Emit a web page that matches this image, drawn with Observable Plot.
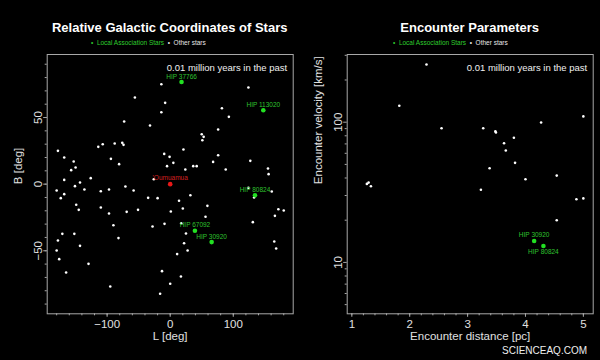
<!DOCTYPE html>
<html><head><meta charset="utf-8">
<script src="https://cdn.jsdelivr.net/npm/d3@7"></script>
<script src="https://cdn.jsdelivr.net/npm/@observablehq/plot@0.6"></script>
<style>
html,body{margin:0;padding:0;background:#000;}
#wrap{position:relative;width:600px;height:360px;background:#000;overflow:hidden;font-family:"Liberation Sans",Arial,sans-serif;color:#fff;}
.panel{position:absolute;top:0;width:300px;height:360px;}
.title{position:absolute;top:21px;width:300px;text-align:center;font-weight:bold;font-size:13px;line-height:13px;white-space:nowrap;}
.legend{position:absolute;top:39px;font-size:6.5px;line-height:7px;white-space:nowrap;}
.legend .g{color:#2ecc2e;}
.legend .w{color:#e8e8e8;}
.wm{position:absolute;left:502px;top:345px;font-size:10px;line-height:12px;color:#eee;}
</style></head>
<body>
<div id="wrap">
  <div class="panel" id="p1" style="left:0"></div>
  <div class="panel" id="p2" style="left:300px"></div>
  <div class="title" style="left:19.7px">Relative Galactic Coordinates of Stars</div>
  <div class="title" style="left:319.7px">Encounter Parameters</div>
  <div class="legend" style="left:91px"><span class="g">•&nbsp; Local Association Stars</span>&nbsp; <span class="w">•&nbsp; Other stars</span></div>
  <div class="legend" style="left:393px"><span class="g">•&nbsp; Local Association Stars</span>&nbsp; <span class="w">•&nbsp; Other stars</span></div>
  <div class="wm">SCIENCEAQ.COM</div>
</div>
<script>
// ---- Left panel: galactic coordinates ----
const otherL = [-14,124,-56,-8,-14,82,93,-73,-32,76,50,53,51,-76,-74,-88,-107,-114,-178,21,-9.5,-1,76,-168,-94,-153,127,68,5,-81,-5,36.5,42,-150,-157,24,88,155,156,-126,-168,-26,-143,-151,-71,-136,-97,-180,-58,-110,124,161,133,-168,32,-173.5,-35,-20,14,-149,-110,59,-145,-51,20,171.5,180,-97,-69,1,56,166,-90,-28,-9,17.5,131,-171,-152,25,-178,-82,-143,22,165,-180,27.6,168,11,-176,-129.5,-165,-13,17,0,-95,-16];
const otherB = [75,72.5,65,61,54,57,50.5,47,44,41,37.5,35.5,33,31,29.5,30.5,30,28,25,26,22.7,20.5,21.7,20,19,17,17.5,16.7,16,15,13.5,13.5,13.5,12.5,10.5,11,11,11.7,7.5,4.5,3.2,3.7,1.2,-1.5,-1.8,-4,-4,-4.8,-4.8,-5.3,-2.8,-5.5,-10,-7.5,-8.3,-10.5,-10.3,-10.5,-12.5,-15.5,-17.5,-16.3,-19.3,-19.3,-18.3,-18.8,-19.8,-22,-20.8,-20.5,-24.5,-23.8,-30.8,-31.8,-29.8,-29.3,-28.5,-37.3,-37.3,-37,-42.3,-40.5,-46.3,-44.3,-43,-49.8,-49.8,-48.3,-52.5,-56.3,-59.8,-66.3,-65.3,-69.3,-74.8,-76.8,-82.3];
const localNames = ["HIP 37766","HIP 113020","HIP 80824","HIP 67092","HIP 30920"];
const localL = [18,147.6,134.4,39.2,65.7];
const localB = [76.7,55.5,-8.3,-35,-43.5];
const oumuamuaName = ["'Oumuamua"];
const oumuamuaL = [0];
const oumuamuaB = [0];
const majorL = [-100,0,100];
const minorL = [-180,-160,-140,-120,-100,-80,-60,-40,-20,0,20,40,60,80,100,120,140,160,180];
const majorB = [-50,0,50];
const minorB = [-90,-80,-70,-60,-50,-40,-30,-20,-10,0,10,20,30,40,50,60,70,80,90];

// ---- Right panel: encounter parameters ----
const otherDist = [2.29,1.82,5.0,4.27,2.55,3.27,3.48,3.49,3.80,3.63,3.66,3.82,3.38,4.54,4.0,1.26,1.29,1.33,3.23,4.88,5.0,4.54];
const otherVel  = [258,131,110,99.5,90.6,90.6,86,84.4,77.4,70.8,62.8,51.3,46.9,41.6,39.2,36.3,37.1,34.9,33,28.2,28.6,20];
const encNames = ["HIP 30920","HIP 80824"];
const encDist = [4.15,4.31];
const encVel = [14.2,13.1];
const majorD = [1,2,3,4,5];
const minorD = [1,1.2,1.4,1.6,1.8,2,2.2,2.4,2.6,2.8,3,3.2,3.4,3.6,3.8,4,4.2,4.4,4.6,4.8,5];
const majorV = [10,100];
const minorV = [5,6,7,8,9,20,30,40,50,60,70,80,90,200,300];

const timeNote = ["0.01 million years in the past"];

const FONT = "Liberation Sans, Arial, sans-serif";
const GREEN = "#22e022", GREEN_TXT = "#2fc02f", RED = "#e81818", RED_TXT = "#d42020";
const FRAME = "#a8a8a8", TXT = "#e0e0e0";
const idx = a => a.map((_, i) => i);

const common = {
  width: 300, height: 360,
  marginTop: 54, marginBottom: 46.7, marginLeft: 46.7, marginRight: 7.3,
  style: {background: "transparent", color: TXT, fontFamily: FONT, fontSize: "11.5px"}
};

const p1 = Plot.plot({
  ...common,
  x: {domain: [-195, 195]},
  y: {domain: [-97.3, 97.3]},
  marks: [
    Plot.axisX(minorL, {tickSize: 2, tickFormat: () => "", stroke: FRAME, label: null}),
    Plot.axisX(majorL, {tickSize: 3.5, tickPadding: 2.5, stroke: FRAME, label: null}),
    Plot.axisY(minorB, {tickSize: 2, tickFormat: () => "", stroke: FRAME, label: null}),
    Plot.axisY(majorB, {tickSize: 3.5, tickPadding: 2, tickRotate: -90, stroke: FRAME, label: null}),
    Plot.frame({stroke: FRAME}),
    Plot.text(["L [deg]"], {text: d => d, frameAnchor: "bottom", dy: 26, fill: TXT, fontSize: 11.5}),
    Plot.text(["B [deg]"], {text: d => d, frameAnchor: "left", rotate: -90, dx: -29, fill: TXT, fontSize: 11.5}),
    Plot.text(timeNote, {text: d => d, frameAnchor: "top-right", dx: -6, dy: 10, textAnchor: "end", fill: "#f0f0f0", fontSize: 9.5}),
    Plot.dot(idx(otherL), {x: i => otherL[i], y: i => otherB[i], r: 1.3, fill: "#fff", stroke: null}),
    Plot.dot(idx(oumuamuaL), {x: i => oumuamuaL[i], y: i => oumuamuaB[i], r: 2.3, fill: RED, stroke: null}),
    Plot.text(idx(oumuamuaL), {x: i => oumuamuaL[i], y: i => oumuamuaB[i], text: i => oumuamuaName[i], dy: -6, fill: RED_TXT, fontSize: 6.5}),
    Plot.dot(idx(localL), {x: i => localL[i], y: i => localB[i], r: 2.3, fill: GREEN, stroke: null}),
    Plot.text(idx(localL), {x: i => localL[i], y: i => localB[i], text: i => localNames[i], dy: -5.5, fill: GREEN_TXT, fontSize: 6.5})
  ]
});
document.getElementById("p1").appendChild(p1);

const p2 = Plot.plot({
  ...common,
  x: {domain: [0.92, 5.17]},
  y: {type: "log", domain: [4.3, 304]},
  marks: [
    Plot.axisX(minorD, {tickSize: 2, tickFormat: () => "", stroke: FRAME, label: null}),
    Plot.axisX(majorD, {tickSize: 3.5, tickPadding: 2.5, tickFormat: d3.format("d"), stroke: FRAME, label: null}),
    Plot.axisY(minorV, {tickSize: 2, tickFormat: () => "", stroke: FRAME, label: null}),
    Plot.axisY(majorV, {tickSize: 3.5, tickPadding: 2, tickRotate: -90, tickFormat: d3.format("d"), stroke: FRAME, label: null}),
    Plot.frame({stroke: FRAME}),
    Plot.text(["Encounter distance [pc]"], {text: d => d, frameAnchor: "bottom", dy: 26, fill: TXT, fontSize: 11.5}),
    Plot.text(["Encounter velocity [km/s]"], {text: d => d, frameAnchor: "left", rotate: -90, dx: -29, fill: TXT, fontSize: 11.5}),
    Plot.text(timeNote, {text: d => d, frameAnchor: "top-right", dx: -6, dy: 10, textAnchor: "end", fill: "#f0f0f0", fontSize: 9.5}),
    Plot.dot(idx(otherDist), {x: i => otherDist[i], y: i => otherVel[i], r: 1.3, fill: "#fff", stroke: null}),
    Plot.dot(idx(encDist), {x: i => encDist[i], y: i => encVel[i], r: 2.3, fill: GREEN, stroke: null}),
    Plot.text([0], {x: i => encDist[i], y: i => encVel[i], text: i => encNames[i], dy: -6, fill: GREEN_TXT, fontSize: 6.5}),
    Plot.text([1], {x: i => encDist[i], y: i => encVel[i], text: i => encNames[i], dy: 6, fill: GREEN_TXT, fontSize: 6.5})
  ]
});
document.getElementById("p2").appendChild(p2);
</script>
</body></html>
